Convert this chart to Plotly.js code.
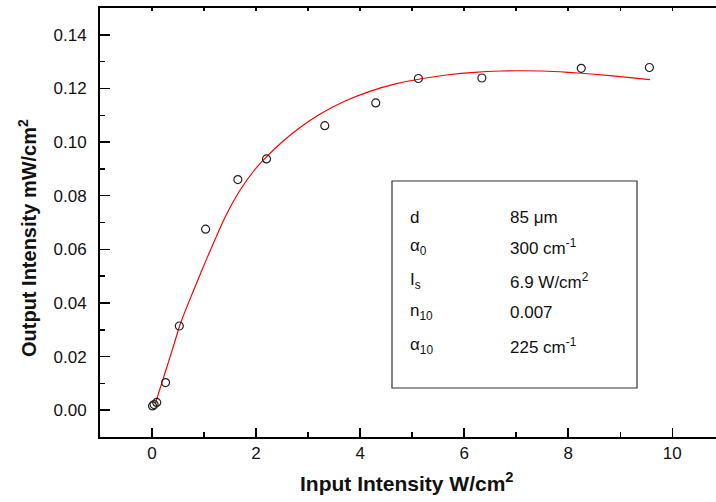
<!DOCTYPE html>
<html>
<head>
<meta charset="utf-8">
<script src="https://cdn.plot.ly/plotly-3.0.1.min.js"></script>
<style>
html,body{margin:0;padding:0;background:#fff;overflow:hidden;}
#chart{width:716px;height:502px;}
</style>
</head>
<body>
<div id="chart"></div>
<script>
// Measured data (open circles)
const inputIntensity = [0.01, 0.04, 0.09, 0.26, 0.525, 1.03, 1.65, 2.20, 3.32, 4.30, 5.12, 6.34, 8.25, 9.56];
const outputIntensity = [0.0016, 0.0021, 0.0029, 0.0103, 0.0314, 0.0675, 0.0860, 0.0937, 0.1061, 0.1146, 0.1237, 0.1239, 0.1275, 0.1278];

// Fitted curve (red line)
const fitX = [0.06, 0.19, 0.30, 0.44, 0.53, 0.65, 0.80, 0.95, 1.12, 1.40, 1.70, 2.00, 2.20, 2.50, 2.80, 3.20, 3.70, 4.20, 4.70, 5.20, 5.70, 6.20, 6.70, 7.00, 7.50, 8.00, 8.50, 9.00, 9.57];
const fitY = [0.0022, 0.0103, 0.0170, 0.0257, 0.0314, 0.0376, 0.0447, 0.0518, 0.0596, 0.0718, 0.0823, 0.0903, 0.0945, 0.1000, 0.1048, 0.1101, 0.1152, 0.1190, 0.1218, 0.1237, 0.1251, 0.1260, 0.1265, 0.1266, 0.1265, 0.1260, 0.1253, 0.1244, 0.1233];

// Parameter box
const paramNames = ["d", "α<sub>0</sub>", "I<sub>s</sub>", "n<sub>10</sub>", "α<sub>10</sub>"];
const paramValues = ["85 μm", "300 cm<sup>-1</sup>", "6.9 W/cm<sup>2</sup>", "0.007", "225 cm<sup>-1</sup>"];

const xTitle = "Input Intensity W/cm<sup>2</sup>";
const yTitle = "Output Intensity mW/cm<sup>2</sup>";

const FONT = "Liberation Sans, Arial, sans-serif";
const W = 716, H = 502, ML = 100, MR = 0, MT = 8, MB = 65;
const PW = W - ML - MR, PH = H - MT - MB;
const px2x = p => (p - ML) / PW;
const px2y = p => (H - MB - p) / PH;

const traces = [
  {
    x: fitX, y: fitY, type: 'scatter', mode: 'lines',
    line: {color: '#ff0000', width: 1.2, shape: 'spline', smoothing: 0.8},
    hoverinfo: 'skip', showlegend: false
  },
  {
    x: inputIntensity, y: outputIntensity, type: 'scatter', mode: 'markers',
    marker: {symbol: 'circle-open', size: 8, color: '#222', line: {width: 1.2, color: '#222'}},
    showlegend: false
  },
  {
    x: inputIntensity, y: outputIntensity, xaxis: 'x2', type: 'scatter', mode: 'markers',
    marker: {opacity: 0}, hoverinfo: 'skip', showlegend: false
  }
];

const rowY = [217, 247, 281, 312, 346];
const annotations = [];
paramNames.forEach((t, i) => {
  annotations.push({xref: 'paper', yref: 'paper', x: px2x(408), y: px2y(rowY[i]), xanchor: 'left', yanchor: 'middle',
    text: t, showarrow: false, font: {family: FONT, size: 17, color: '#111'}});
});
paramValues.forEach((t, i) => {
  annotations.push({xref: 'paper', yref: 'paper', x: px2x(508), y: px2y(rowY[i]), xanchor: 'left', yanchor: 'middle',
    text: t, showarrow: false, font: {family: FONT, size: 17, color: '#111'}});
});
annotations.push({xref: 'paper', yref: 'paper', x: px2x(407), y: px2y(482), xanchor: 'center', yanchor: 'middle',
  text: xTitle, showarrow: false, font: {family: FONT, size: 21, color: '#111', weight: 'bold'}});
annotations.push({xref: 'paper', yref: 'paper', x: px2x(27), y: px2y(238), xanchor: 'center', yanchor: 'middle',
  text: yTitle, textangle: -90, showarrow: false, font: {family: FONT, size: 20, color: '#111', weight: 'bold'}});

const layout = {
  width: W, height: H,
  margin: {l: ML, r: MR, t: MT, b: MB},
  paper_bgcolor: '#fff', plot_bgcolor: '#fff',
  showlegend: false,
  font: {family: FONT, size: 16, color: '#111'},
  xaxis: {
    range: [-1, 10.84], tick0: 0, dtick: 2, ticks: 'inside', ticklen: 9, tickwidth: 1.5, tickcolor: '#000',
    minor: {dtick: 1, ticks: 'inside', ticklen: 5, tickwidth: 1.5, tickcolor: '#000'},
    showline: true, linecolor: '#000', linewidth: 2, showgrid: false, zeroline: false,
    tickfont: {family: FONT, size: 17, color: '#111'}, ticklabelstandoff: 0
  },
  xaxis2: {
    overlaying: 'x', matches: 'x', side: 'top', anchor: 'y',
    tick0: 0, dtick: 1, ticks: 'inside', ticklen: 3, tickwidth: 1.5, tickcolor: '#000',
    showline: true, linecolor: '#000', linewidth: 2, showgrid: false, zeroline: false, showticklabels: false
  },
  yaxis: {
    range: [-0.01, 0.15], tick0: 0, dtick: 0.02, tickformat: '.2f', ticks: 'inside', ticklen: 10, tickwidth: 1.5, tickcolor: '#000',
    minor: {dtick: 0.01, ticks: 'inside', ticklen: 5, tickwidth: 1.5, tickcolor: '#000'},
    showline: true, linecolor: '#000', linewidth: 2, showgrid: false, zeroline: false,
    tickfont: {family: FONT, size: 17, color: '#111'}, ticklabelstandoff: 8
  },
  shapes: [{
    type: 'rect', xref: 'paper', yref: 'paper',
    x0: px2x(392), x1: px2x(637), y0: px2y(388), y1: px2y(181),
    line: {color: '#333', width: 1.2}, fillcolor: 'rgba(0,0,0,0)'
  }],
  annotations: annotations
};

Plotly.newPlot('chart', traces, layout, {displayModeBar: false, staticPlot: true});
</script>
</body>
</html>
